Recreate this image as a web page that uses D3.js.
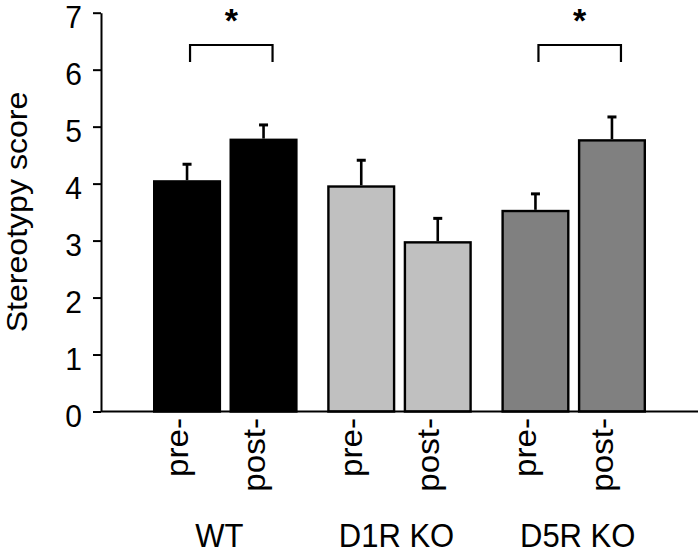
<!DOCTYPE html>
<html>
<head>
<meta charset="utf-8">
<script src="https://cdn.jsdelivr.net/npm/d3@7"></script>
<style>
  html, body { margin: 0; padding: 0; background: #fff; }
  svg { display: block; font-family: "Liberation Sans", Arial, sans-serif; }
</style>
</head>
<body>
<svg id="chart" width="700" height="555"></svg>
<script>
// ---- data ----
const groups = ["WT", "D1R KO", "D5R KO"];
const phases = ["pre-", "post-"];
const preValues = [4.06, 3.97, 3.54];
const postValues = [4.79, 2.99, 4.78];
const preErrors = [0.28, 0.44, 0.28];
const postErrors = [0.24, 0.40, 0.39];
const groupFills = ["#000000", "#c0c0c0", "#808080"];
const yTicks = [0, 1, 2, 3, 4, 5, 6, 7];
const significantGroups = ["WT", "D5R KO"];
const yLabel = "Stereotypy score";

const bars = [];
groups.forEach((g, i) => {
  bars.push({ group: g, phase: phases[0], value: preValues[i], err: preErrors[i], fill: groupFills[i] });
  bars.push({ group: g, phase: phases[1], value: postValues[i], err: postErrors[i], fill: groupFills[i] });
});

// ---- layout ----
const svg = d3.select("#chart");
const axisX = 101;
const sy = 1.07; // vertical text stretch

const y = d3.scaleLinear().domain([0, 7]).range([411.5, 12.7]);
const xGroup = d3.scaleBand().domain(groups).range([153, 646]).paddingInner(0.17).paddingOuter(0);
const xPhase = d3.scaleBand().domain(phases).range([0, xGroup.bandwidth()]).paddingInner(0.11).paddingOuter(0);
const barX = d => xGroup(d.group) + xPhase(d.phase);
const barC = d => barX(d) + xPhase.bandwidth() / 2;

// bars
const sw = 2.4;
svg.append("g").selectAll("rect").data(bars).join("rect")
  .attr("x", d => barX(d) + sw / 2)
  .attr("y", d => y(d.value) + sw / 2)
  .attr("width", xPhase.bandwidth() - sw)
  .attr("height", d => y(0) - y(d.value) - sw / 2)
  .attr("fill", d => d.fill)
  .attr("stroke", "#000")
  .attr("stroke-width", sw);

// error bars
const eb = svg.append("g").attr("stroke", "#000");
eb.selectAll("line.v").data(bars).join("line").attr("class", "v")
  .attr("x1", barC).attr("x2", barC)
  .attr("y1", d => y(d.value)).attr("y2", d => y(d.value + d.err))
  .attr("stroke-width", 2.6);
eb.selectAll("line.c").data(bars).join("line").attr("class", "c")
  .attr("x1", d => barC(d) - 4.5).attr("x2", d => barC(d) + 4.5)
  .attr("y1", d => y(d.value + d.err)).attr("y2", d => y(d.value + d.err))
  .attr("stroke-width", 3);

// y axis
const yAxis = svg.append("g")
  .attr("transform", `translate(${axisX},0)`)
  .call(d3.axisLeft(y).tickValues(yTicks).tickFormat(d3.format("d")).tickSize(8).tickSizeOuter(0).tickPadding(11));
yAxis.select(".domain").attr("stroke", "#000").attr("stroke-width", 2);
yAxis.selectAll(".tick line").attr("stroke", "#000").attr("stroke-width", 2);
yAxis.selectAll(".tick text")
  .attr("font-size", 30)
  .attr("font-family", "Liberation Sans, Arial, sans-serif")
  .attr("fill", "#000")
  .attr("dy", null)
  .attr("y", 0)
  .attr("transform", `translate(0,4) scale(1,${sy})`)
  .attr("dominant-baseline", "central");

// x axis baseline
svg.append("line")
  .attr("x1", axisX).attr("x2", 698)
  .attr("y1", y(0)).attr("y2", y(0))
  .attr("stroke", "#000").attr("stroke-width", 2);

// phase labels (rotated)
svg.append("g").selectAll("text").data(bars).join("text")
  .attr("transform", d => `translate(${barC(d) + 1},418) scale(1,${sy}) rotate(-90)`)
  .attr("text-anchor", "end")
  .attr("font-size", 31)
  .attr("fill", "#000")
  .text(d => d.phase);

// group labels
svg.append("g").selectAll("text").data(groups).join("text")
  .attr("transform", (d, i) => `translate(${xGroup(d) + xGroup.bandwidth() / 2 + [-6, -3, 4][i]},547) scale(1,${sy})`)
  .attr("text-anchor", "middle")
  .attr("font-size", 31)
  .attr("fill", "#000")
  .text(d => d);

// y axis label
svg.append("text")
  .attr("transform", `translate(27,212) scale(1,${sy}) rotate(-90)`)
  .attr("text-anchor", "middle")
  .attr("font-size", 30)
  .attr("fill", "#000")
  .text(yLabel);

// significance brackets
const sig = svg.append("g");
significantGroups.forEach(g => {
  const pre = bars.find(b => b.group === g && b.phase === phases[0]);
  const post = bars.find(b => b.group === g && b.phase === phases[1]);
  const x1 = barC(pre) + 3, x2 = barC(post) + 9;
  sig.append("path")
    .attr("d", `M${x1},62V45H${x2}V62`)
    .attr("fill", "none").attr("stroke", "#000").attr("stroke-width", 2.2);
  sig.append("text")
    .attr("x", (x1 + x2) / 2).attr("y", 31.5)
    .attr("text-anchor", "middle")
    .attr("font-size", 34).attr("font-weight", "bold")
    .attr("fill", "#000")
    .text("*");
});
</script>
</body>
</html>
